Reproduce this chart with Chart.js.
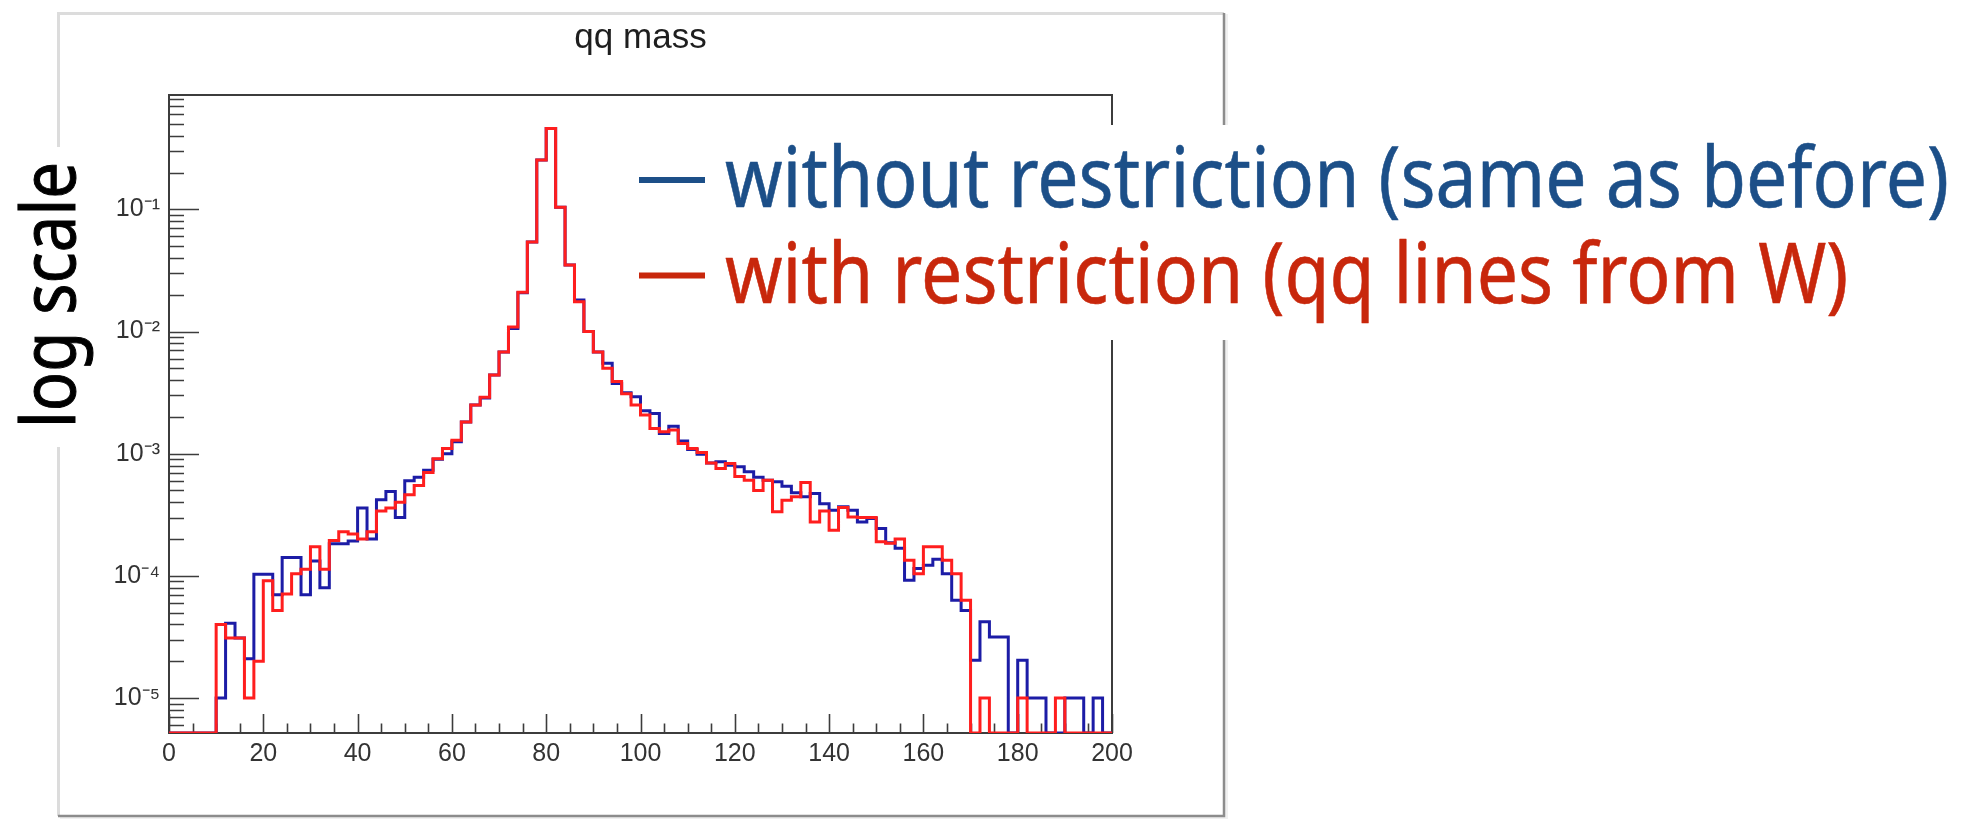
<!DOCTYPE html>
<html>
<head>
<meta charset="utf-8">
<script src="https://cdn.jsdelivr.net/npm/chart.js@4.4.1/dist/chart.umd.min.js"></script>
<style>
html,body{margin:0;padding:0;background:#fff;overflow:hidden}
#wrap{width:1977px;height:819px;position:relative}
canvas{display:block}
</style>
</head>
<body>
<div id="wrap"><canvas id="c" width="1977" height="819" style="width:1977px;height:819px"></canvas></div>
<script>
// ---------------- data ----------------
const chartTitle = 'qq mass';
const sideLabel = 'log scale';
const legendLabels = ['without restriction (same as before)', 'with restriction (qq lines from W)'];
const seriesNames = ['without restriction', 'with restriction'];

// bin lower edges (GeV), 2 GeV bins from 0 to 200
const binLow = Array.from({length: 100}, (_, i) => 2 * i);
const xMin = 0, xMax = 200;
const xTickLabels = ['0','20','40','60','80','100','120','140','160','180','200'];

// y tick labels (decades)
const yDecades = [1e-5, 1e-4, 1e-3, 1e-2, 1e-1];
const yDecadeLabels = ['10\u207B\u2075', '10\u207B\u2074', '10\u207B\u00B3', '10\u207B\u00B2', '10\u207B\u00B9'];
const yMin = 5.17e-6, yMax = 0.863;

// normalised entries per bin, without restriction (blue)
const blueValues = [
  0, 0, 0, 0, 0, 1.0e-5, 4.1e-5, 3.1e-5, 2.1e-5, 1.03e-4,
  1.03e-4, 7.0e-5, 1.41e-4, 1.41e-4, 7.0e-5, 1.32e-4, 8.0e-5, 1.83e-4, 1.83e-4, 1.93e-4,
  3.6e-4, 2.0e-4, 4.2e-4, 4.9e-4, 3.0e-4, 6.0e-4, 6.4e-4, 7.3e-4, 9.0e-4, 1.0e-3,
  1.25e-3, 1.82e-3, 2.5e-3, 2.86e-3, 4.4e-3, 6.8e-3, 1.06e-2, 2.08e-2, 5.4e-2, 0.254,
  0.46, 0.104, 0.035, 0.0181, 0.0100, 6.8e-3, 5.5e-3, 3.76e-3, 3.15e-3, 2.92e-3,
  2.25e-3, 2.13e-3, 1.46e-3, 1.68e-3, 1.27e-3, 1.08e-3, 9.9e-4, 8.4e-4, 8.6e-4, 8.05e-4,
  7.8e-4, 7.1e-4, 6.4e-4, 6.07e-4, 5.9e-4, 5.4e-4, 4.78e-4, 4.43e-4, 4.72e-4, 3.9e-4,
  3.44e-4, 3.67e-4, 3.44e-4, 2.76e-4, 2.94e-4, 2.44e-4, 1.87e-4, 1.68e-4, 9.2e-5, 1.15e-4,
  1.22e-4, 1.37e-4, 1.04e-4, 6.3e-5, 5.2e-5, 2.04e-5, 4.2e-5, 3.16e-5, 3.16e-5, 0,
  2.04e-5, 1.0e-5, 1.0e-5, 0, 0, 1.0e-5, 1.0e-5, 0, 1.0e-5, 0
];

// normalised entries per bin, with restriction (red)
const redValues = [
  0, 0, 0, 0, 0, 4.0e-5, 3.1e-5, 3.1e-5, 1.0e-5, 2.0e-5,
  9.1e-5, 5.2e-5, 7.1e-5, 1.04e-4, 1.13e-4, 1.73e-4, 1.13e-4, 1.95e-4, 2.3e-4, 2.2e-4,
  2.0e-4, 2.3e-4, 3.4e-4, 3.6e-4, 4.0e-4, 4.6e-4, 5.5e-4, 7.0e-4, 9.1e-4, 1.1e-3,
  1.29e-3, 1.82e-3, 2.5e-3, 2.9e-3, 4.4e-3, 6.8e-3, 1.09e-2, 2.1e-2, 5.4e-2, 0.254,
  0.46, 0.104, 0.035, 0.0175, 0.0100, 6.8e-3, 5.0e-3, 3.9e-3, 3.1e-3, 2.5e-3,
  2.07e-3, 1.61e-3, 1.51e-3, 1.56e-3, 1.21e-3, 1.10e-3, 1.02e-3, 8.4e-4, 7.55e-4, 8.3e-4,
  6.5e-4, 6.07e-4, 5.0e-4, 6.07e-4, 3.34e-4, 4.16e-4, 4.43e-4, 5.8e-4, 2.76e-4, 3.4e-4,
  2.36e-4, 3.62e-4, 3.03e-4, 3.0e-4, 3.0e-4, 1.9e-4, 1.85e-4, 2.0e-4, 1.34e-4, 1.04e-4,
  1.73e-4, 1.73e-4, 1.34e-4, 1.04e-4, 6.3e-5, 0, 1.0e-5, 0, 0, 0,
  1.0e-5, 0, 0, 0, 1.0e-5, 0, 0, 0, 0, 0
];

// ---------------- styles ----------------
const HIST_BLUE = '#1c1ca6';
const HIST_RED = '#ff1e1e';
const LEG_BLUE = '#1c4f88';
const LEG_RED = '#c8270c';
const AXIS_COL = '#3c3c3c';
const LABEL_COL = '#333333';
const LEG_FONT = '"Noto Sans", "Open Sans", sans-serif';
const AX_FONT = '"Liberation Sans", Arial, sans-serif';

function toSteps(vals) {
  const pts = vals.map((v, i) => ({x: binLow[i], y: v > 0 ? v : yMin}));
  pts.push({x: xMax, y: pts[pts.length - 1].y});
  return pts;
}

// background + outer panel
const panelPlugin = {
  id: 'panel',
  beforeDraw(chart) {
    const ctx = chart.ctx;
    ctx.save();
    ctx.fillStyle = '#ffffff';
    ctx.fillRect(0, 0, chart.width, chart.height);
    ctx.fillStyle = 'rgba(0,0,0,0.06)';
    ctx.fillRect(60, 14, 1168, 806);
    ctx.fillStyle = '#ffffff';
    ctx.fillRect(58, 12, 1166, 804);
    ctx.lineWidth = 3;
    ctx.strokeStyle = '#dcdcdc';
    ctx.beginPath();
    ctx.moveTo(58.5, 816); ctx.lineTo(58.5, 13.5); ctx.lineTo(1224, 13.5);
    ctx.stroke();
    ctx.lineWidth = 2.5;
    ctx.strokeStyle = '#8c8c8c';
    ctx.beginPath();
    ctx.moveTo(1224, 13); ctx.lineTo(1224, 816); ctx.lineTo(58, 816);
    ctx.stroke();
    ctx.restore();
  }
};

// frame + ROOT-like inward ticks
const framePlugin = {
  id: 'frame',
  beforeDatasetsDraw(chart) {
    const ctx = chart.ctx;
    const {left, right, top, bottom} = chart.chartArea;
    const xs = chart.scales.x, ys = chart.scales.y;
    ctx.save();
    ctx.strokeStyle = AXIS_COL;
    ctx.lineWidth = 2;
    ctx.strokeRect(left, top, right - left, bottom - top);
    ctx.lineWidth = 1.6;
    ctx.beginPath();
    for (let v = xMin; v <= xMax; v += 5) {
      const px = Math.round(xs.getPixelForValue(v)) + 0.5;
      const len = (v % 20 === 0) ? 19 : 9.5;
      ctx.moveTo(px, bottom);
      ctx.lineTo(px, bottom - len);
    }
    for (let e = -6; e <= 0; e++) {
      for (let k = 1; k <= 9; k++) {
        const v = k * Math.pow(10, e);
        if (v < yMin || v > yMax) continue;
        const py = Math.round(ys.getPixelForValue(v)) + 0.5;
        const len = (k === 1) ? 30 : 15;
        ctx.moveTo(left, py);
        ctx.lineTo(left + len, py);
      }
    }
    ctx.stroke();
    ctx.restore();
  }
};

function fitText(ctx, text, x, y, width, font, color, stroke) {
  ctx.save();
  ctx.font = font;
  ctx.fillStyle = color;
  ctx.strokeStyle = color;
  ctx.lineWidth = stroke;
  ctx.lineJoin = 'round';
  ctx.textAlign = 'left';
  ctx.textBaseline = 'alphabetic';
  const w = ctx.measureText(text).width;
  ctx.translate(x, y);
  ctx.scale(width / w, 1);
  ctx.fillText(text, 0, 0);
  if (stroke > 0) ctx.strokeText(text, 0, 0);
  ctx.restore();
}

// overlay annotations
const overlayPlugin = {
  id: 'overlay',
  afterDraw(chart) {
    const ctx = chart.ctx;
    ctx.save();
    // legend box
    ctx.fillStyle = '#ffffff';
    ctx.fillRect(615, 125, 1362, 215);
    ctx.fillStyle = LEG_BLUE;
    ctx.fillRect(639, 177, 66, 6);
    ctx.fillStyle = LEG_RED;
    ctx.fillRect(639, 272.5, 66, 6);
    const font = '84px ' + LEG_FONT;
    ctx.font = font;
    const w1 = ctx.measureText(legendLabels[0]).width;
    const sx = 1224 / w1;
    const w2 = ctx.measureText(legendLabels[1]).width * sx;
    fitText(ctx, legendLabels[0], 725, 207, 1224, font, LEG_BLUE, 0.6);
    fitText(ctx, legendLabels[1], 725, 303, w2, font, LEG_RED, 0.6);
    // side label
    ctx.fillStyle = '#ffffff';
    ctx.fillRect(0, 147, 98, 300);
    ctx.translate(75, 295);
    ctx.rotate(-Math.PI / 2);
    ctx.font = '74px ' + LEG_FONT;
    const ws = ctx.measureText(sideLabel).width;
    ctx.scale(266 / ws, 1);
    ctx.fillStyle = '#000000';
    ctx.strokeStyle = '#000000';
    ctx.lineWidth = 1.0;
    ctx.textAlign = 'center';
    ctx.textBaseline = 'alphabetic';
    ctx.fillText(sideLabel, 0, 0);
    ctx.strokeText(sideLabel, 0, 0);
    ctx.restore();
  }
};

new Chart(document.getElementById('c'), {
  type: 'line',
  data: {
    datasets: [
      {
        label: seriesNames[1],
        data: toSteps(redValues),
        borderColor: HIST_RED,
        borderWidth: 3,
        stepped: 'before',
        pointRadius: 0,
        fill: false,
        order: 0
      },
      {
        label: seriesNames[0],
        data: toSteps(blueValues),
        borderColor: HIST_BLUE,
        borderWidth: 3,
        stepped: 'before',
        pointRadius: 0,
        fill: false,
        order: 1
      }
    ]
  },
  options: {
    responsive: false,
    animation: false,
    devicePixelRatio: 1,
    layout: {padding: {left: 0, right: 865, top: 0, bottom: 0}},
    plugins: {
      legend: {display: false},
      tooltip: {enabled: false},
      title: {
        display: true,
        text: chartTitle,
        fullSize: false,
        color: '#1e1e1e',
        font: {family: AX_FONT, size: 35, weight: 'normal', lineHeight: 1.2},
        padding: {top: 17, bottom: 36}
      }
    },
    scales: {
      x: {
        type: 'linear',
        min: xMin,
        max: xMax,
        grid: {display: false, drawTicks: false},
        border: {display: false},
        ticks: {
          stepSize: 20,
          autoSkip: false,
          maxRotation: 0,
          padding: 6,
          color: LABEL_COL,
          font: {family: AX_FONT, size: 25},
          callback: (v) => { const i = xTickLabels.indexOf(String(v)); return i >= 0 ? xTickLabels[i] : ''; }
        },
        afterFit: (s) => { s.height = 86; }
      },
      y: {
        type: 'logarithmic',
        min: yMin,
        max: yMax,
        grid: {display: false, drawTicks: false},
        border: {display: false},
        afterBuildTicks: (s) => { s.ticks = yDecades.map(v => ({value: v, major: true})); },
        ticks: {
          autoSkip: false,
          padding: 9,
          color: LABEL_COL,
          font: {family: AX_FONT, size: 25},
          callback: (v) => { const i = yDecades.findIndex(d => Math.abs(d - v) / d < 1e-6); return i >= 0 ? yDecadeLabels[i] : ''; }
        },
        afterFit: (s) => { s.width = 169; }
      }
    }
  },
  plugins: [panelPlugin, framePlugin, overlayPlugin]
});
</script>
</body>
</html>
